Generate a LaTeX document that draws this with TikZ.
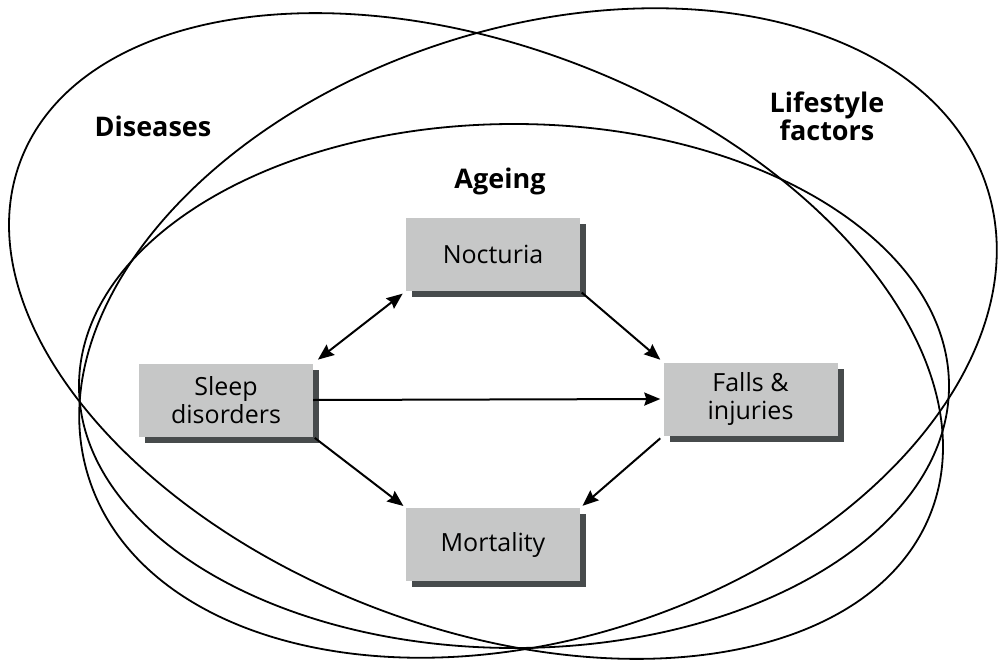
\documentclass[tikz,border=0pt]{standalone}
\usepackage{fontspec}
\setmainfont{Open Sans}
\usetikzlibrary{arrows.meta,shadows}
\definecolor{boxgray}{HTML}{C6C7C7}
\definecolor{shadowgray}{HTML}{474B4C}
\tikzset{
  blob/.style={draw=black, line width=1.8pt},
  factorbox/.style={fill=boxgray, draw=none, minimum width=174pt, minimum height=73pt,
    align=center, font=\fontsize{25}{28}\selectfont, inner sep=0pt,
    drop shadow={shadow xshift=6pt, shadow yshift=-6pt, fill=shadowgray, opacity=1}},
  biglabel/.style={font=\fontsize{27}{28}\selectfont\bfseries, align=center},
  tip/.style={Stealth[length=16pt,width=13pt,inset=2pt]},
  link/.style={line width=2pt, -{Stealth[length=16pt,width=13pt,inset=2pt]}},
  dlink/.style={line width=2pt, {Stealth[length=16pt,width=13pt,inset=2pt]}-{Stealth[length=16pt,width=13pt,inset=2pt]}}
}
\begin{document}
\begin{tikzpicture}[x=1pt,y=-1pt]
\useasboundingbox (0,0) rectangle (998,666);
% background ellipses
\draw[blob, rotate around={-21.2:(476,336)}] (476,336) ellipse [x radius=488, y radius=290];
\draw[blob, rotate around={18:(538,333)}] (538,333) ellipse [x radius=472, y radius=305];
\draw[blob] (514,386) ellipse [x radius=435, y radius=262];
% labels
\node[biglabel] (dis) at (153,126) {Diseases};
\node[biglabel] (life) at (827,116) {Lifestyle\\factors};
\node[biglabel] (age) at (500,181) {Ageing};
% boxes
\node[factorbox] (noct) at (493,254.5) {Nocturia};
\node[factorbox] (sleep) at (226,400) {Sleep\\disorders};
\node[factorbox] (falls) at (750.5,399) {Falls \&\\injuries};
\node[factorbox] (mort) at (493,544.5) {Mortality};
% connectors
\draw[dlink, shorten <=6pt, shorten >=4pt] (sleep.north east) -- (noct.south west);
\draw[link, shorten <=2pt, shorten >=4pt] (noct.south east) -- (falls.north west);
\draw[link, shorten >=3pt] (sleep.east) -- (falls.west);
\draw[link, shorten <=2pt, shorten >=3pt] (sleep.south east) -- (mort.north west);
\draw[link, shorten <=4pt, shorten >=3pt] (falls.south west) -- (mort.north east);
\end{tikzpicture}
\end{document}
